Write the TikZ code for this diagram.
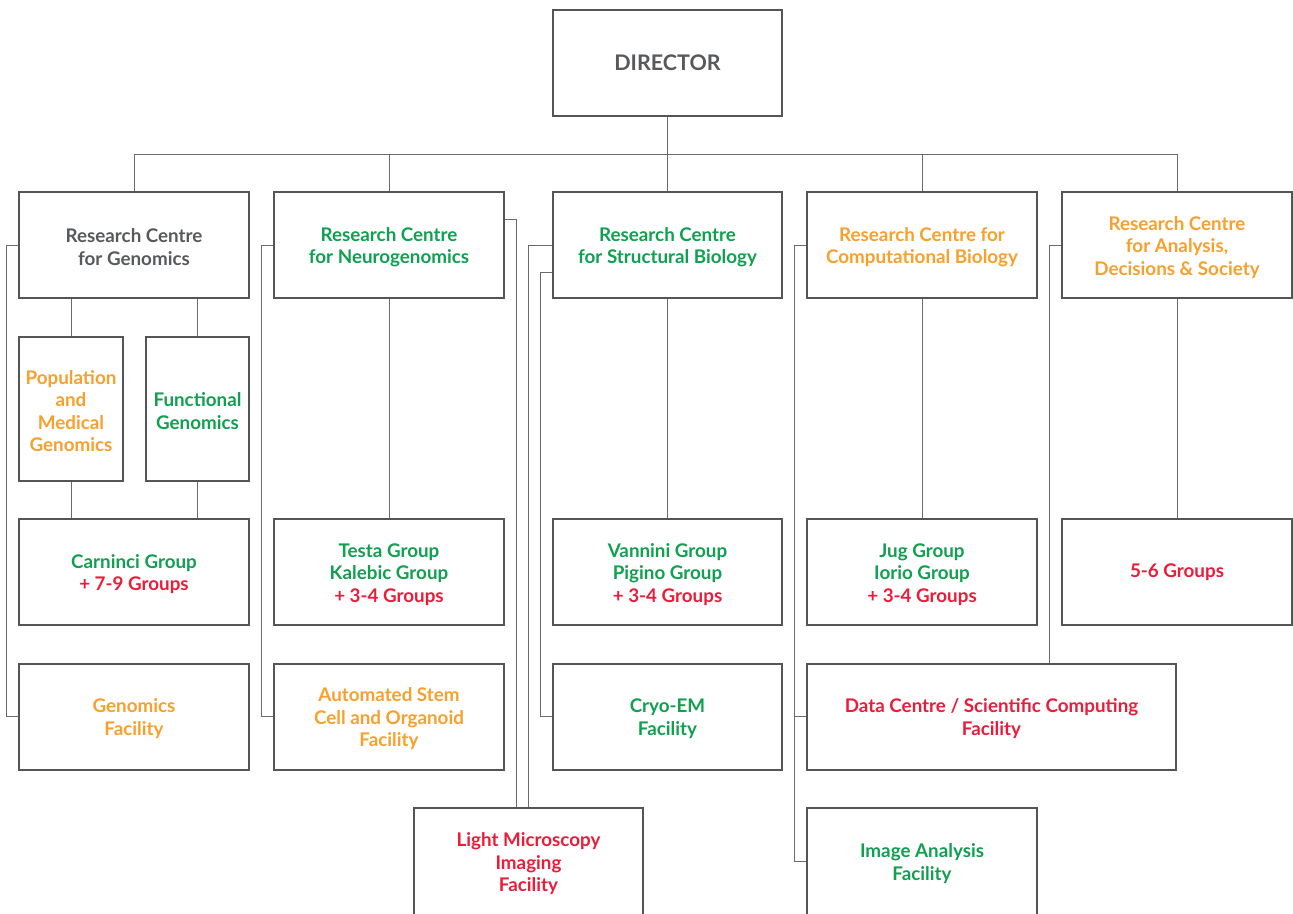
\documentclass[tikz,border=0pt]{standalone}
\usepackage{fontspec}
\setmainfont{Lato}
\definecolor{boxc}{HTML}{555555}
\definecolor{linec}{HTML}{6A6A6A}
\definecolor{txtgray}{HTML}{58595B}
\definecolor{tgreen}{HTML}{10A050}
\definecolor{torange}{HTML}{F7A02C}
\definecolor{tred}{HTML}{EB1C3A}
\newcommand{\gr}[1]{\textcolor{tgreen}{#1}}
\newcommand{\orr}[1]{\textcolor{torange}{#1}}
\newcommand{\rd}[1]{\textcolor{tred}{#1}}
\newcommand{\gy}[1]{\textcolor{txtgray}{#1}}
\newcommand{\fs}{\rule{0pt}{18.5pt}}
\begin{document}
\begin{tikzpicture}[x=1pt,y=-1pt,
  box/.style={draw=boxc, line width=2pt, fill=white, minimum width=230pt, minimum height=106pt,
    align=center, inner sep=0pt, font=\fontsize{18.8}{22.5}\bfseries\selectfont},
  conn/.style={draw=linec, line width=1pt}]
\useasboundingbox (0,0) rectangle (1293,913);
\clip (0,0) rectangle (1293,913);
% top
\node[box, minimum width=229pt, font=\fontsize{21.5}{24}\bfseries\selectfont] (dir) at (667.5,63) {\gy{DIRECTOR}};
% row 1
\node[box] (rcg) at (134,245) {\fs\gy{Research Centre}\\\gy{for Genomics}};
\node[box] (rcn) at (389,245) {\fs\gr{Research Centre}\\\gr{for Neurogenomics}};
\node[box, minimum width=229pt] (rcs) at (667.5,245) {\fs\gr{Research Centre}\\\gr{for Structural Biology}};
\node[box] (rcc) at (922,245) {\fs\orr{Research Centre for}\\\orr{Computational Biology}};
\node[box] (rca) at (1177,245) {\fs\orr{Research Centre}\\\orr{for Analysis,}\\\orr{Decisions \& Society}};
% row 2
\node[box, minimum width=104pt, minimum height=144pt] (pop) at (71,409) {\fs\orr{Population}\\\orr{and}\\\orr{Medical}\\\orr{Genomics}};
\node[box, minimum width=103pt, minimum height=144pt] (fun) at (197.5,409) {\fs\gr{Functional}\\\gr{Genomics}};
% row 3
\node[box] (carn) at (134,572) {\fs\gr{Carninci Group}\\\rd{+ 7-9 Groups}};
\node[box] (testa) at (389,572) {\fs\gr{Testa Group}\\\gr{Kalebic Group}\\\rd{+ 3-4 Groups}};
\node[box, minimum width=229pt] (vann) at (667.5,572) {\fs\gr{Vannini Group}\\\gr{Pigino Group}\\\rd{+ 3-4 Groups}};
\node[box] (jug) at (922,572) {\fs\gr{Jug Group}\\\gr{Iorio Group}\\\rd{+ 3-4 Groups}};
\node[box] (five) at (1177,572) {\rd{5-6 Groups}};
% row 4
\node[box] (gf) at (134,716.5) {\fs\orr{Genomics}\\\orr{Facility}};
\node[box] (asc) at (389,716.5) {\fs\orr{Automated Stem}\\\orr{Cell and Organoid}\\\orr{Facility}};
\node[box, minimum width=229pt] (cryo) at (667.5,716.5) {\fs\gr{Cryo-EM}\\\gr{Facility}};
\node[box, minimum width=369pt] (dc) at (991.5,716.5) {\fs\rd{Data Centre / Scientific Computing}\\\rd{Facility}};
% row 5
\node[box, minimum width=229pt, minimum height=107pt] (lm) at (528.5,861.5) {\fs\rd{Light Microscopy}\\\rd{Imaging}\\\rd{Facility}};
\node[box, minimum height=107pt] (ia) at (922,861.5) {\fs\gr{Image Analysis}\\\gr{Facility}};
% connectors: director bus
\draw[conn] (dir.south) -- (rcs.north);
\draw[conn] (rcg.north) -- ++(0,-37) -| (rca.north);
\draw[conn] (rcn.north) -- ++(0,-37);
\draw[conn] (rcc.north) -- ++(0,-37);
% genomics sub
\draw[conn] (rcg.south -| pop.north) -- (pop.north);
\draw[conn] (rcg.south -| fun.north) -- (fun.north);
\draw[conn] (pop.south) -- (carn.north -| pop.south);
\draw[conn] (fun.south) -- (carn.north -| fun.south);
% centre to groups
\draw[conn] (rcn.south) -- (testa.north);
\draw[conn] (rcs.south) -- (vann.north);
\draw[conn] (rcc.south) -- (jug.north);
\draw[conn] (rca.south) -- (five.north);
% facilities
\draw[conn] (rcg.west) -- ++(-12,0) |- (gf.west);
\draw[conn] (rcn.west) -- ++(-12,0) |- (asc.west);
\draw[conn] ([yshift=26pt]rcn.east) -| ([xshift=-12pt]lm.north);
\draw[conn] (rcs.west) -| (lm.north);
\draw[conn] ([yshift=-27pt]rcs.west) -- ++(-12,0) |- (cryo.west);
\draw[conn] (rcc.west) -- ++(-12,0) |- (ia.west);
\draw[conn] (dc.west) -- ++(-12,0);
\coordinate (aL) at ([xshift=-12pt]rca.west);
\draw[conn] (rca.west) -- (aL) -- (dc.north -| aL);
\end{tikzpicture}
\end{document}
